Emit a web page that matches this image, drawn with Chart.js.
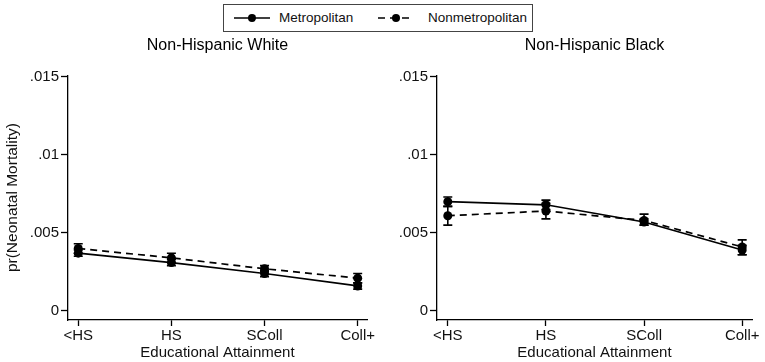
<!DOCTYPE html>
<html>
<head>
<meta charset="utf-8">
<script src="https://cdn.jsdelivr.net/npm/chart.js@4.4.1/dist/chart.umd.min.js"></script>
<style>
  body { margin: 0; background: #fff; font-family: "Liberation Sans", Arial, sans-serif; }
  #wrap { position: relative; width: 765px; height: 362px; overflow: hidden; }
  .panel { position: absolute; top: 35px; height: 327px; }
  #legend { position: absolute; left: 223px; top: 4px; width: 308px; height: 26px;
            border: 1px solid #444; background: #fff; font-size: 13.5px; color: #111; }
  #legend .t { position: absolute; top: 4px; height: 18px; line-height: 18px; }
  #legend svg { position: absolute; top: 7px; }
</style>
</head>
<body>
<div id="wrap">
  <div id="legend">
    <svg style="left:10px" width="36" height="12"><line x1="0" y1="6" x2="36" y2="6" stroke="#000" stroke-width="1.6"/><circle cx="18" cy="6" r="4" fill="#000"/></svg>
    <span class="t" style="left:55px">Metropolitan</span>
    <svg style="left:154px" width="36" height="12"><line x1="0" y1="6" x2="36" y2="6" stroke="#000" stroke-width="1.6" stroke-dasharray="7,5"/><circle cx="18" cy="6" r="4" fill="#000"/></svg>
    <span class="t" style="left:204px">Nonmetropolitan</span>
  </div>
  <div class="panel" style="left:0; width:382px;"><canvas id="c1"></canvas></div>
  <div class="panel" style="left:382px; width:383px;"><canvas id="c2"></canvas></div>
</div>
<script>
var kategorie = ['<HS', 'HS', 'SColl', 'Coll+'];
var yTicks = [0, 0.005, 0.01, 0.015];

// Non-Hispanic White
var whiteMetro     = [0.0037, 0.0031, 0.0024, 0.0016];
var whiteMetroLo   = [0.0035, 0.0029, 0.0022, 0.0014];
var whiteMetroHi   = [0.0039, 0.0033, 0.0026, 0.0018];
var whiteNonmetro   = [0.0040, 0.0034, 0.0027, 0.0021];
var whiteNonmetroLo = [0.0037, 0.0031, 0.0025, 0.0018];
var whiteNonmetroHi = [0.0043, 0.0037, 0.0029, 0.0024];

// Non-Hispanic Black
var blackMetro     = [0.0070, 0.0068, 0.0057, 0.0039];
var blackMetroLo   = [0.0067, 0.0065, 0.0055, 0.0036];
var blackMetroHi   = [0.0073, 0.0071, 0.0059, 0.0042];
var blackNonmetro   = [0.0061, 0.0064, 0.0058, 0.0041];
var blackNonmetroLo = [0.0055, 0.0059, 0.0055, 0.0036];
var blackNonmetroHi = [0.0067, 0.0069, 0.0062, 0.00455];

var font = "'Liberation Sans', Arial, sans-serif";

function punkty(arr) {
  return arr.map(function(v, i) { return {x: i, y: v}; });
}

var errorBars = {
  id: 'errorBars',
  afterDatasetsDraw: function(chart) {
    var ctx = chart.ctx, xs = chart.scales.x, ys = chart.scales.y;
    ctx.save();
    ctx.strokeStyle = '#000';
    ctx.lineWidth = 1.6;
    chart.data.datasets.forEach(function(ds) {
      for (var i = 0; i < ds.lo.length; i++) {
        var px = xs.getPixelForValue(i);
        var p1 = ys.getPixelForValue(ds.lo[i]);
        var p2 = ys.getPixelForValue(ds.hi[i]);
        ctx.beginPath();
        ctx.moveTo(px, p1); ctx.lineTo(px, p2);
        ctx.moveTo(px - 4.5, p1); ctx.lineTo(px + 4.5, p1);
        ctx.moveTo(px - 4.5, p2); ctx.lineTo(px + 4.5, p2);
        ctx.stroke();
      }
    });
    ctx.restore();
  }
};

function wykres(id, title, metro, mLo, mHi, nonmetro, nLo, nHi, yWidth, yTitle, rightPad) {
  return new Chart(document.getElementById(id), {
    type: 'line',
    data: {
      datasets: [
        { label: 'Metropolitan', data: punkty(metro), lo: mLo, hi: mHi,
          borderColor: '#000', backgroundColor: '#000', borderWidth: 1.7,
          pointRadius: 4.5, pointBackgroundColor: '#000', pointBorderWidth: 0 },
        { label: 'Nonmetropolitan', data: punkty(nonmetro), lo: nLo, hi: nHi,
          borderColor: '#000', backgroundColor: '#000', borderWidth: 1.7, borderDash: [7, 5],
          pointRadius: 4.5, pointBackgroundColor: '#000', pointBorderWidth: 0 }
      ]
    },
    options: {
      responsive: true,
      maintainAspectRatio: false,
      animation: false,
      layout: { padding: { right: rightPad, bottom: 0 } },
      plugins: {
        legend: { display: false },
        tooltip: { enabled: false },
        title: { display: true, text: title, fullSize: false, color: '#000',
                 font: { family: font, size: 16, weight: 'normal' },
                 padding: { top: 1, bottom: 20 } }
      },
      scales: {
        x: {
          type: 'linear', min: -0.11, max: 3.1,
          afterBuildTicks: function(s) { s.ticks = [0, 1, 2, 3].map(function(v) { return {value: v}; }); },
          afterFit: function(s) { s.height = 42; },
          grid: { drawOnChartArea: false, drawTicks: true, tickLength: 6, color: '#000', tickWidth: 1.3 },
          border: { display: true, color: '#000', width: 1.3 },
          ticks: { color: '#111', padding: 1, maxRotation: 0, font: { family: font, size: 15 },
                   callback: function(v) { return kategorie[v]; } },
          title: { display: true, text: 'Educational Attainment', color: '#111', padding: 0,
                   font: { family: font, size: 15 } }
        },
        y: {
          min: -0.00058, max: 0.0151,
          afterBuildTicks: function(s) { s.ticks = yTicks.map(function(v) { return {value: v}; }); },
          afterFit: function(s) { s.width = yWidth; },
          grid: { drawOnChartArea: false, drawTicks: true, tickLength: 7, color: '#000', tickWidth: 1.3 },
          border: { display: true, color: '#000', width: 1.3 },
          ticks: { color: '#111', padding: 2, font: { family: font, size: 15 },
                   callback: function(v) { return v === 0 ? '0' : String(v).replace(/^0/, ''); } },
          title: { display: yTitle, text: 'pr(Neonatal Mortality)', color: '#111', padding: { top: 3, bottom: 0 },
                   font: { family: font, size: 15.5 } }
        }
      }
    },
    plugins: [errorBars]
  });
}

wykres('c1', 'Non-Hispanic White', whiteMetro, whiteMetroLo, whiteMetroHi,
       whiteNonmetro, whiteNonmetroLo, whiteNonmetroHi, 68, true, 15);
wykres('c2', 'Non-Hispanic Black', blackMetro, blackMetroLo, blackMetroHi,
       blackNonmetro, blackNonmetroLo, blackNonmetroHi, 55, false, 13);
</script>
</body>
</html>
